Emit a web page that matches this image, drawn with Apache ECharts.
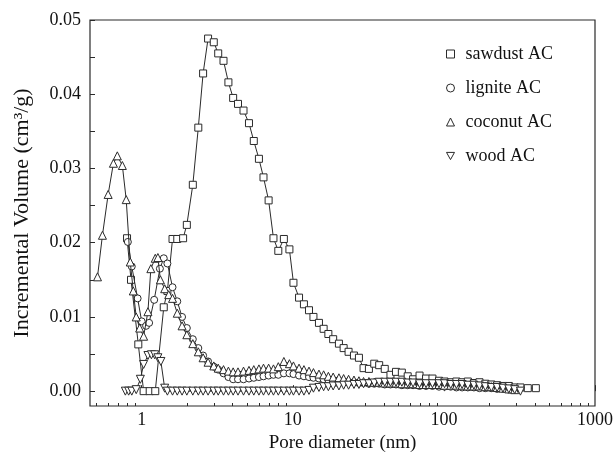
<!DOCTYPE html>
<html>
<head>
<meta charset="utf-8">
<script src="https://cdn.jsdelivr.net/npm/echarts@6/dist/echarts.min.js"></script>
<style>html,body{margin:0;padding:0;background:#fff;}#c{width:616px;height:458px;}</style>
</head>
<body>
<div id="c"></div>
<script>
const seriesNames = ['sawdust AC', 'lignite AC', 'coconut AC', 'wood AC'];
const xMajorTicks = [1, 10, 100, 1000];
const xMinorTicks = [0.5,0.6,0.7,0.8,0.9,2,3,4,5,6,7,8,9,20,30,40,50,60,70,80,90,200,300,400,500,600,700,800,900];
const yLabelTicks = [0, 0.01, 0.02, 0.03, 0.04, 0.05];
const yAllTicks = [0,0.005,0.01,0.015,0.02,0.025,0.03,0.035,0.04,0.045,0.05];

const sawdust = [[0.80,0.0206],[0.85,0.0150],[0.95,0.0063],[1.03,0.0000],[1.13,0.0000],[1.23,0.0000],[1.40,0.0113],[1.48,0.0135],[1.60,0.0205],[1.72,0.0205],[1.88,0.0206],[1.99,0.0224],[2.18,0.0278],[2.37,0.0355],[2.55,0.0428],[2.75,0.0475],[3.00,0.0470],[3.21,0.0455],[3.48,0.0445],[3.75,0.0416],[4.03,0.0395],[4.34,0.0387],[4.72,0.0378],[5.13,0.0361],[5.52,0.0337],[5.97,0.0313],[6.40,0.0288],[6.92,0.0257],[7.45,0.0206],[8.02,0.0189],[8.73,0.0205],[9.50,0.0191],[10.1,0.0146],[11.0,0.0126],[11.85,0.0117],[12.8,0.0109],[13.7,0.0100],[14.9,0.0092],[16.0,0.0084],[17.2,0.0077],[18.5,0.0070],[20.2,0.0064],[21.7,0.0058],[23.4,0.0053],[25.4,0.0048],[27.4,0.0045],[29.4,0.0031],[31.9,0.0030],[34.6,0.0037],[37.3,0.0035],[40.6,0.0030],[44.3,0.0022],[48.2,0.0026],[52.7,0.0025],[57.6,0.0020],[62.5,0.0016],[69.0,0.0021],[76.2,0.0017],[84.0,0.0017],[92.8,0.0014],[101,0.0013],[111,0.0012],[121,0.0013],[132,0.0012],[144,0.0013],[158,0.0011],[172,0.0012],[188,0.0010],[206,0.0009],[225,0.0008],[246,0.0007],[269,0.0007],[294,0.0005],[321,0.0005],[359,0.0004],[406,0.0004]];

const lignite = [[0.81,0.0201],[0.86,0.0168],[0.94,0.0125],[1.00,0.0094],[1.07,0.0088],[1.12,0.0092],[1.21,0.0123],[1.32,0.0165],[1.40,0.0179],[1.48,0.0172],[1.60,0.0140],[1.72,0.0121],[1.85,0.0100],[1.99,0.0085],[2.18,0.0070],[2.37,0.0058],[2.55,0.0048],[2.75,0.0040],[3.00,0.0033],[3.21,0.0029],[3.48,0.0024],[3.75,0.0019],[4.03,0.0016],[4.34,0.0016],[4.72,0.0016],[5.13,0.0017],[5.52,0.0018],[5.97,0.0019],[6.40,0.0020],[6.92,0.0021],[7.45,0.0022],[8.02,0.0022],[8.73,0.0024],[9.50,0.0024],[10.1,0.0023],[11.0,0.0021],[11.85,0.0020],[12.8,0.0019],[13.7,0.0018],[14.9,0.0017],[16.0,0.0016],[17.2,0.0015],[18.5,0.0014],[20.2,0.0013],[21.7,0.0013],[23.4,0.0012],[25.4,0.0012],[27.4,0.0011],[29.4,0.0011],[31.9,0.0010],[34.6,0.0010],[37.3,0.0010],[40.6,0.0009],[44.3,0.0009],[48.2,0.0009],[52.7,0.0008],[57.6,0.0008],[62.5,0.0008],[69.0,0.0007],[76.2,0.0007],[84.0,0.0007],[92.8,0.0006],[101,0.0006],[111,0.0006],[121,0.0005],[132,0.0005],[144,0.0005],[158,0.0005],[172,0.0004],[188,0.0004],[206,0.0004],[225,0.0003],[246,0.0003],[269,0.0002],[294,0.0002]];

const coconut = [[0.51,0.0154],[0.55,0.0210],[0.60,0.0265],[0.65,0.0307],[0.69,0.0317],[0.745,0.0304],[0.79,0.0258],[0.84,0.0174],[0.88,0.0135],[0.92,0.0100],[0.97,0.0085],[1.03,0.0074],[1.10,0.0107],[1.15,0.0165],[1.23,0.0179],[1.28,0.0180],[1.33,0.0150],[1.42,0.0138],[1.51,0.0130],[1.60,0.0125],[1.72,0.0105],[1.85,0.0088],[1.99,0.0076],[2.18,0.0064],[2.37,0.0053],[2.55,0.0045],[2.75,0.0039],[3.00,0.0034],[3.21,0.0031],[3.48,0.0029],[3.75,0.0027],[4.03,0.0026],[4.34,0.0026],[4.72,0.0027],[5.13,0.0028],[5.52,0.0029],[5.97,0.0030],[6.40,0.0031],[6.92,0.0031],[7.45,0.0030],[8.02,0.0033],[8.73,0.0040],[9.50,0.0037],[10.1,0.0034],[11.0,0.0031],[11.85,0.0029],[12.8,0.0027],[13.7,0.0025],[14.9,0.0023],[16.0,0.0022],[17.2,0.0020],[18.5,0.0019],[20.2,0.0018],[21.7,0.0017],[23.4,0.0016],[25.4,0.0015],[27.4,0.0014],[29.4,0.0013],[31.9,0.0013],[34.6,0.0012],[37.3,0.0012],[40.6,0.0011],[44.3,0.0011],[48.2,0.0011],[52.7,0.0010],[57.6,0.0010],[62.5,0.0010],[69.0,0.0009],[76.2,0.0009],[84.0,0.0009],[92.8,0.0009],[101,0.0008],[111,0.0008],[121,0.0008],[132,0.0008],[144,0.0007],[158,0.0007],[172,0.0007],[188,0.0006],[206,0.0006],[225,0.0005],[246,0.0004],[269,0.0003],[294,0.0002]];

const wood = [[0.78,0],[0.82,0],[0.86,0],[0.92,0.0002],[0.98,0.0016],[1.03,0.0036],[1.10,0.0048],[1.16,0.0049],[1.22,0.0049],[1.28,0.0045],[1.34,0.0040],[1.42,0.0004],[1.48,0],[1.60,0],[1.72,0],[1.85,0],[1.99,0],[2.18,0],[2.37,0],[2.55,0],[2.75,0],[3.00,0],[3.21,0],[3.48,0],[3.75,0],[4.03,0],[4.34,0],[4.72,0],[5.13,0],[5.52,0],[5.97,0],[6.40,0],[6.92,0],[7.45,0],[8.02,0],[8.73,0],[9.50,0],[10.1,0],[11.0,0],[11.85,0],[12.8,0.0001],[13.7,0.0004],[14.9,0.0005],[16.0,0.0006],[17.2,0.0006],[18.5,0.0007],[20.2,0.0007],[21.7,0.0008],[23.4,0.0008],[25.4,0.0009],[27.4,0.0009],[29.4,0.0010],[31.9,0.0010],[34.6,0.0011],[37.3,0.0012],[40.6,0.0012],[44.3,0.0012],[48.2,0.0012],[52.7,0.0012],[57.6,0.0011],[62.5,0.0011],[69.0,0.0010],[76.2,0.0010],[84.0,0.0010],[92.8,0.0010],[101,0.0010],[111,0.0009],[121,0.0009],[132,0.0009],[144,0.0008],[158,0.0008],[172,0.0007],[188,0.0006],[206,0.0005],[225,0.0005],[246,0.0004],[269,0.0003],[294,0.0002],[321,0.0000]];

const INK = '#2a2a2a';
const FONT = 'Liberation Serif';
const downTri = 'path://M0,0L10,0L5,9Z';
const symbols = ['rect', 'circle', 'triangle', downTri];
const sizes = [7, 7, 8, 8];
const datasets = [sawdust, lignite, coconut, wood];

const chart = echarts.init(document.getElementById('c'), null, {renderer: 'canvas'});
const option = {
  animation: false,
  backgroundColor: '#fff',
  grid: {left: 90, right: 5, top: 20, bottom: 50, show: true, borderColor: INK, borderWidth: 1.2, backgroundColor: 'transparent'},
  legend: {
    orient: 'vertical', left: 441, top: 40, itemGap: 16,
    itemWidth: 8, itemHeight: 8,
    itemStyle: {color: '#fff', borderColor: INK, borderWidth: 1},
    textStyle: {fontFamily: FONT, fontSize: 18, color: '#111', padding: [0, 0, 0, 6]},
    data: seriesNames.map((n, i) => ({name: n, icon: symbols[i]}))
  },
  xAxis: [{
    type: 'log', logBase: 10, min: 0.455, max: 1000,
    name: 'Pore diameter (nm)', nameLocation: 'middle', nameGap: 28,
    nameTextStyle: {fontFamily: FONT, fontSize: 19, color: '#111'},
    axisLine: {show: false},
    axisTick: {show: true, inside: true, length: 6, lineStyle: {color: INK, width: 1}, customValues: xMajorTicks},
    axisLabel: {fontFamily: FONT, fontSize: 18, color: '#111', margin: 5, customValues: xMajorTicks, formatter: v => String(Math.round(v))},
    splitLine: {show: false}
  }, {
    type: 'log', logBase: 10, min: 0.455, max: 1000, position: 'bottom',
    axisLine: {show: false},
    axisTick: {show: true, inside: true, length: 3, lineStyle: {color: INK, width: 1}, customValues: xMinorTicks},
    axisLabel: {show: false},
    splitLine: {show: false}
  }],
  yAxis: {
    type: 'value', min: -0.002, max: 0.05,
    name: 'Incremental Volume (cm\u00B3/g)', nameLocation: 'middle', nameGap: 57, nameRotate: 90,
    nameTextStyle: {fontFamily: FONT, fontSize: 22, color: '#111'},
    axisLine: {show: false},
    axisTick: {show: true, inside: true, length: 5, lineStyle: {color: INK, width: 1}, customValues: yAllTicks},
    axisLabel: {fontFamily: FONT, fontSize: 18, color: '#111', margin: 9, customValues: yLabelTicks, formatter: v => v.toFixed(2)},
    splitLine: {show: false}
  },
  series: datasets.map((d, i) => ({
    name: seriesNames[i], type: 'line', xAxisIndex: 0, data: d,
    symbol: symbols[i], symbolSize: sizes[i], showAllSymbol: true,
    itemStyle: {color: '#fff', borderColor: INK, borderWidth: 1},
    lineStyle: {color: INK, width: 1},
    z: 2 + i
  }))
};
chart.setOption(option);
</script>
</body>
</html>
